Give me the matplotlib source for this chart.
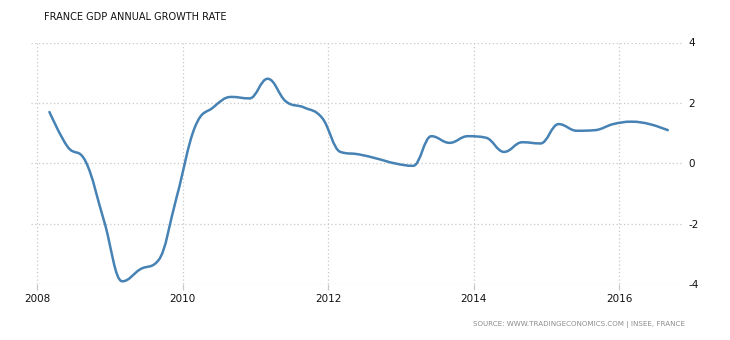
import numpy as np
import matplotlib
matplotlib.use("Agg")
import matplotlib.pyplot as plt
from matplotlib.path import Path
from matplotlib.patches import PathPatch

# France GDP, year-on-year growth (%), quarterly
quarters = [
    "2008Q1", "2008Q2", "2008Q3", "2008Q4",
    "2009Q1", "2009Q2", "2009Q3", "2009Q4",
    "2010Q1", "2010Q2", "2010Q3", "2010Q4",
    "2011Q1", "2011Q2", "2011Q3", "2011Q4",
    "2012Q1", "2012Q2", "2012Q3", "2012Q4",
    "2013Q1", "2013Q2", "2013Q3", "2013Q4",
    "2014Q1", "2014Q2", "2014Q3", "2014Q4",
    "2015Q1", "2015Q2", "2015Q3", "2015Q4",
    "2016Q1", "2016Q2", "2016Q3",
]
growth = [
    1.7, 0.55, 0.05, -1.9,
    -3.9, -3.5, -3.2, -1.1,
    1.2, 1.85, 2.2, 2.15,
    2.8, 2.05, 1.85, 1.5,
    0.38, 0.3, 0.16, 0.0,
    -0.08, 0.9, 0.68, 0.9,
    0.85, 0.38, 0.7, 0.66,
    1.3, 1.08, 1.1, 1.3,
    1.38, 1.3, 1.1,
]
year_ticks = [2008, 2010, 2012, 2014, 2016]
value_ticks = [-4, -2, 0, 2, 4]

TITLE = "FRANCE GDP ANNUAL GROWTH RATE"
SOURCE = "SOURCE: WWW.TRADINGECONOMICS.COM | INSEE, FRANCE"


def quarter_to_year(q):
    year, qn = int(q[:4]), int(q[-1])
    return year + (3 * qn - 1) / 12.0


def smooth_path(xs, ys, smoothing=1.5):
    """Cubic Bezier spline through the points, without false extremes."""
    n = len(xs)
    denom = smoothing + 1
    left = [(xs[i], ys[i]) for i in range(n)]
    right = [(xs[i], ys[i]) for i in range(n)]
    for i in range(1, n - 1):
        px, py = xs[i], ys[i]
        lx, ly = xs[i - 1], ys[i - 1]
        nx, ny = xs[i + 1], ys[i + 1]
        lcx = (smoothing * px + lx) / denom
        lcy = (smoothing * py + ly) / denom
        rcx = (smoothing * px + nx) / denom
        rcy = (smoothing * py + ny) / denom
        if rcx != lcx:
            corr = (rcy - lcy) * (rcx - px) / (rcx - lcx) + py - rcy
            lcy += corr
            rcy += corr
        if lcy > ly and lcy > py:
            lcy = max(ly, py)
            rcy = 2 * py - lcy
        elif lcy < ly and lcy < py:
            lcy = min(ly, py)
            rcy = 2 * py - lcy
        if rcy > ny and rcy > py:
            rcy = max(ny, py)
            lcy = 2 * py - rcy
        elif rcy < ny and rcy < py:
            rcy = min(ny, py)
            lcy = 2 * py - rcy
        left[i] = (lcx, lcy)
        right[i] = (rcx, rcy)
    verts = [(xs[0], ys[0])]
    codes = [Path.MOVETO]
    for i in range(1, n):
        verts += [right[i - 1], left[i], (xs[i], ys[i])]
        codes += [Path.CURVE4] * 3
    return Path(verts, codes)


x = np.array([quarter_to_year(q) for q in quarters])
y = np.array(growth)

fig = plt.figure(figsize=(7.3, 3.4), dpi=100)
ax = fig.add_axes([31 / 730, 1 - 284.3 / 340, (683 - 31) / 730, (284.3 - 42.5) / 340])

grid_kw = dict(color="#c8c8c8", linewidth=0.9, linestyle=(0, (1, 2)))
ax.grid(True, axis="both", **grid_kw)
ax.set_axisbelow(True)

ax.add_patch(PathPatch(smooth_path(x, y), fill=False, edgecolor="#4682b4",
                       linewidth=1.8, capstyle="round", joinstyle="round", zorder=3))

ax.set_xlim(2007.913, 2016.876)
ax.set_ylim(-4, 4)
ax.set_xticks(year_ticks)
ax.set_xticklabels([str(v) for v in year_ticks])
ax.set_yticks(value_ticks)
ax.set_yticklabels([str(v) for v in value_ticks])
ax.yaxis.tick_right()

for s in ax.spines.values():
    s.set_visible(False)

ax.tick_params(axis="x", length=4, width=0.9, color="#c8c8c8", pad=3,
               labelsize=7.5, labelcolor="#111111")
ax.tick_params(axis="y", length=0, pad=4, labelsize=7.5, labelcolor="#111111")

fig.text(44 / 730, 1 - 17 / 340, TITLE, fontsize=7.05, color="#111111",
         ha="left", va="center")
fig.text(685 / 730, 1 - 325 / 340, SOURCE, fontsize=5.1, color="#8c8c8c",
         ha="right", va="center")

fig.savefig("out.png", dpi=100)
